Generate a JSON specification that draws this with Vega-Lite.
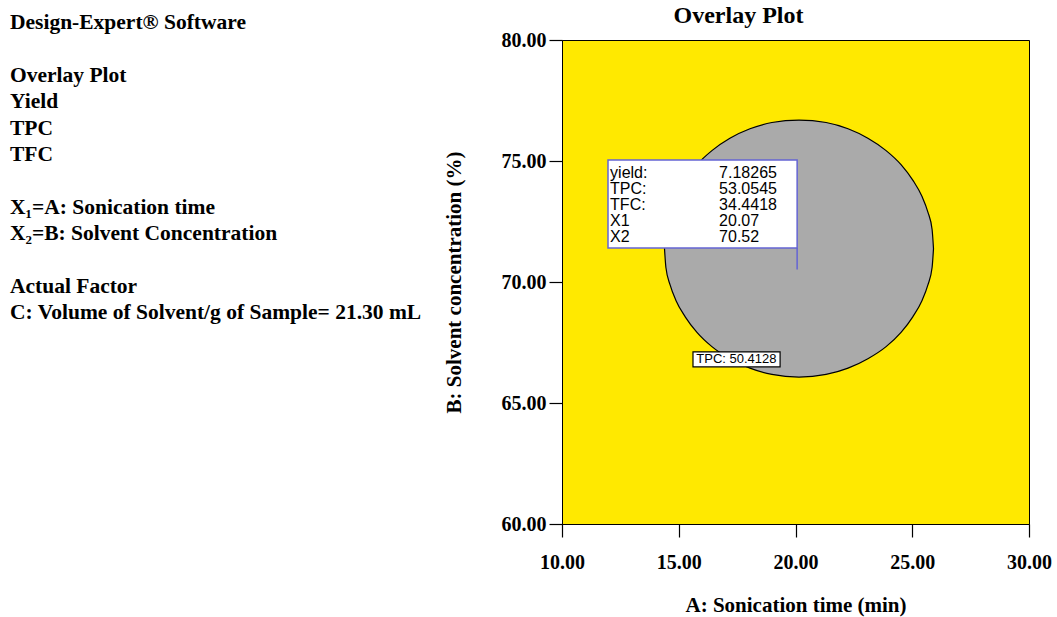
{
  "$schema": "https://vega.github.io/schema/vega-lite/v6.json",
  "autosize": {"type": "none"},
  "width": 467,
  "height": 484,
  "padding": {"left": 562, "top": 40, "right": 28, "bottom": 93},
  "background": "white",
  "title": {
    "text": ["Design-Expert® Software", "\u2800", "Overlay Plot", "Yield", "TPC", "TFC", "\u2800", "X₁=A: Sonication time", "X₂=B: Solvent Concentration", "\u2800", "Actual Factor", "C: Volume of Solvent/g of Sample= 21.30 mL"],
    "anchor": "start",
    "frame": "group",
    "orient": "top",
    "baseline": "top",
    "font": "Liberation Serif",
    "fontWeight": "bold",
    "fontSize": 21.5,
    "color": "black",
    "lineHeight": 26.4,
    "offset": -321,
    "dx": -552,
    "dy": 0
  },
  "datasets": {
    "region": [
      {"A": 14.39, "B_low": 71.38, "B_high": 71.38},
      {"A": 14.45, "B_low": 70.60, "B_high": 72.17},
      {"A": 14.63, "B_low": 69.88, "B_high": 72.89},
      {"A": 14.88, "B_low": 69.24, "B_high": 73.53},
      {"A": 15.27, "B_low": 68.57, "B_high": 74.20},
      {"A": 15.78, "B_low": 67.92, "B_high": 74.85},
      {"A": 16.42, "B_low": 67.33, "B_high": 75.43},
      {"A": 17.19, "B_low": 66.83, "B_high": 75.94},
      {"A": 18.05, "B_low": 66.44, "B_high": 76.33},
      {"A": 18.99, "B_low": 66.18, "B_high": 76.59},
      {"A": 20.15, "B_low": 66.07, "B_high": 76.69},
      {"A": 21.31, "B_low": 66.18, "B_high": 76.59},
      {"A": 22.25, "B_low": 66.44, "B_high": 76.33},
      {"A": 23.10, "B_low": 66.83, "B_high": 75.94},
      {"A": 23.88, "B_low": 67.33, "B_high": 75.43},
      {"A": 24.52, "B_low": 67.92, "B_high": 74.85},
      {"A": 25.03, "B_low": 68.57, "B_high": 74.20},
      {"A": 25.42, "B_low": 69.24, "B_high": 73.53},
      {"A": 25.67, "B_low": 69.88, "B_high": 72.89},
      {"A": 25.85, "B_low": 70.60, "B_high": 72.17},
      {"A": 25.91, "B_low": 71.38, "B_high": 71.38}
    ],
    "flag": [
      {"X1": 20.07, "X2": 70.52, "boxLeft": 11.97, "boxTop": 75.04, "boxBottom": 71.40}
    ],
    "flagText": [
      {"name": "yield:", "value": "7.18265", "A": 12.06, "B": 74.50},
      {"name": "TPC:", "value": "53.0545", "A": 12.06, "B": 73.84},
      {"name": "TFC:", "value": "34.4418", "A": 12.06, "B": 73.18},
      {"name": "X1", "value": "20.07", "A": 12.06, "B": 72.52},
      {"name": "X2", "value": "70.52", "A": 12.06, "B": 71.86}
    ],
    "contourLabel": [
      {"label": "TPC: 50.4128", "A": 17.47, "B": 66.80, "A0": 15.61, "A1": 19.34, "B0": 66.49, "B1": 67.11}
    ]
  },
  "layer": [
    {
      "data": {"name": "region"},
      "mark": {"type": "area", "fill": "#aaaaaa", "stroke": "black", "strokeWidth": 1.2, "interpolate": "monotone", "orient": "vertical"},
      "encoding": {
        "x": {"field": "A", "type": "quantitative", "scale": {"domain": [10, 30], "nice": false, "zero": false},
          "axis": {"orient": "bottom", "title": "A: Sonication time (min)", "values": [10, 15, 20, 25, 30], "format": ".2f", "labelPadding": 15, "titlePadding": 22, "labelFlush": false, "labelOverlap": false}},
        "y": {"field": "B_low", "type": "quantitative", "scale": {"domain": [60, 80], "nice": false, "zero": false},
          "axis": {"title": "B: Solvent concentration (%)", "values": [60, 65, 70, 75, 80], "format": ".2f", "labelPadding": 3, "titlePadding": 37, "labelOverlap": false}},
        "y2": {"field": "B_high"}
      }
    },
    {
      "data": {"name": "flag"},
      "mark": {"type": "rect", "fill": "white", "stroke": "#6464d4", "strokeWidth": 1.5},
      "encoding": {
        "x": {"field": "boxLeft", "type": "quantitative",
          "axis": {"orient": "top", "title": "Overlay Plot", "labels": false, "ticks": false, "domain": false, "titleFontSize": 24, "titleX": 176, "titlePadding": 13}},
        "x2": {"field": "X1"},
        "y": {"field": "boxBottom", "type": "quantitative", "axis": {"title": "B: Solvent concentration (%)"}},
        "y2": {"field": "boxTop"}
      }
    },
    {
      "data": {"name": "flag"},
      "mark": {"type": "rule", "stroke": "#6464d4", "strokeWidth": 1.5},
      "encoding": {
        "x": {"field": "X1", "type": "quantitative", "axis": null},
        "y": {"field": "X2", "type": "quantitative", "axis": {"title": "B: Solvent concentration (%)"}},
        "y2": {"field": "boxBottom"}
      }
    },
    {
      "data": {"name": "flagText"},
      "mark": {"type": "text", "align": "left", "baseline": "middle", "font": "Liberation Sans", "fontSize": 16, "color": "black"},
      "encoding": {
        "x": {"field": "A", "type": "quantitative", "axis": null},
        "y": {"field": "B", "type": "quantitative", "axis": {"title": "B: Solvent concentration (%)"}},
        "text": {"field": "name"}
      }
    },
    {
      "data": {"name": "flagText"},
      "mark": {"type": "text", "align": "left", "baseline": "middle", "font": "Liberation Sans", "fontSize": 16, "color": "black", "dx": 109},
      "encoding": {
        "x": {"field": "A", "type": "quantitative", "axis": null},
        "y": {"field": "B", "type": "quantitative", "axis": {"title": "B: Solvent concentration (%)"}},
        "text": {"field": "value"}
      }
    },
    {
      "data": {"name": "contourLabel"},
      "mark": {"type": "rect", "fill": "white", "stroke": "black", "strokeWidth": 1.2},
      "encoding": {
        "x": {"field": "A0", "type": "quantitative", "axis": null},
        "x2": {"field": "A1"},
        "y": {"field": "B0", "type": "quantitative", "axis": {"title": "B: Solvent concentration (%)"}},
        "y2": {"field": "B1"}
      }
    },
    {
      "data": {"name": "contourLabel"},
      "mark": {"type": "text", "align": "center", "baseline": "middle", "font": "Liberation Sans", "fontSize": 13, "color": "black"},
      "encoding": {
        "x": {"field": "A", "type": "quantitative", "axis": null},
        "y": {"field": "B", "type": "quantitative", "axis": {"title": "B: Solvent concentration (%)"}},
        "text": {"field": "label"}
      }
    }
  ],
  "resolve": {"axis": {"x": "independent"}},
  "config": {
    "view": {"fill": "#ffe900", "stroke": "black", "strokeWidth": 1},
    "axis": {
      "domainColor": "black", "domainWidth": 1, "tickColor": "black", "tickWidth": 1.2, "tickSize": 13,
      "labelColor": "black", "titleColor": "black",
      "labelFont": "Liberation Serif", "titleFont": "Liberation Serif",
      "labelFontWeight": "bold", "titleFontWeight": "bold",
      "labelFontSize": 20, "titleFontSize": 21, "grid": false
    }
  }
}
